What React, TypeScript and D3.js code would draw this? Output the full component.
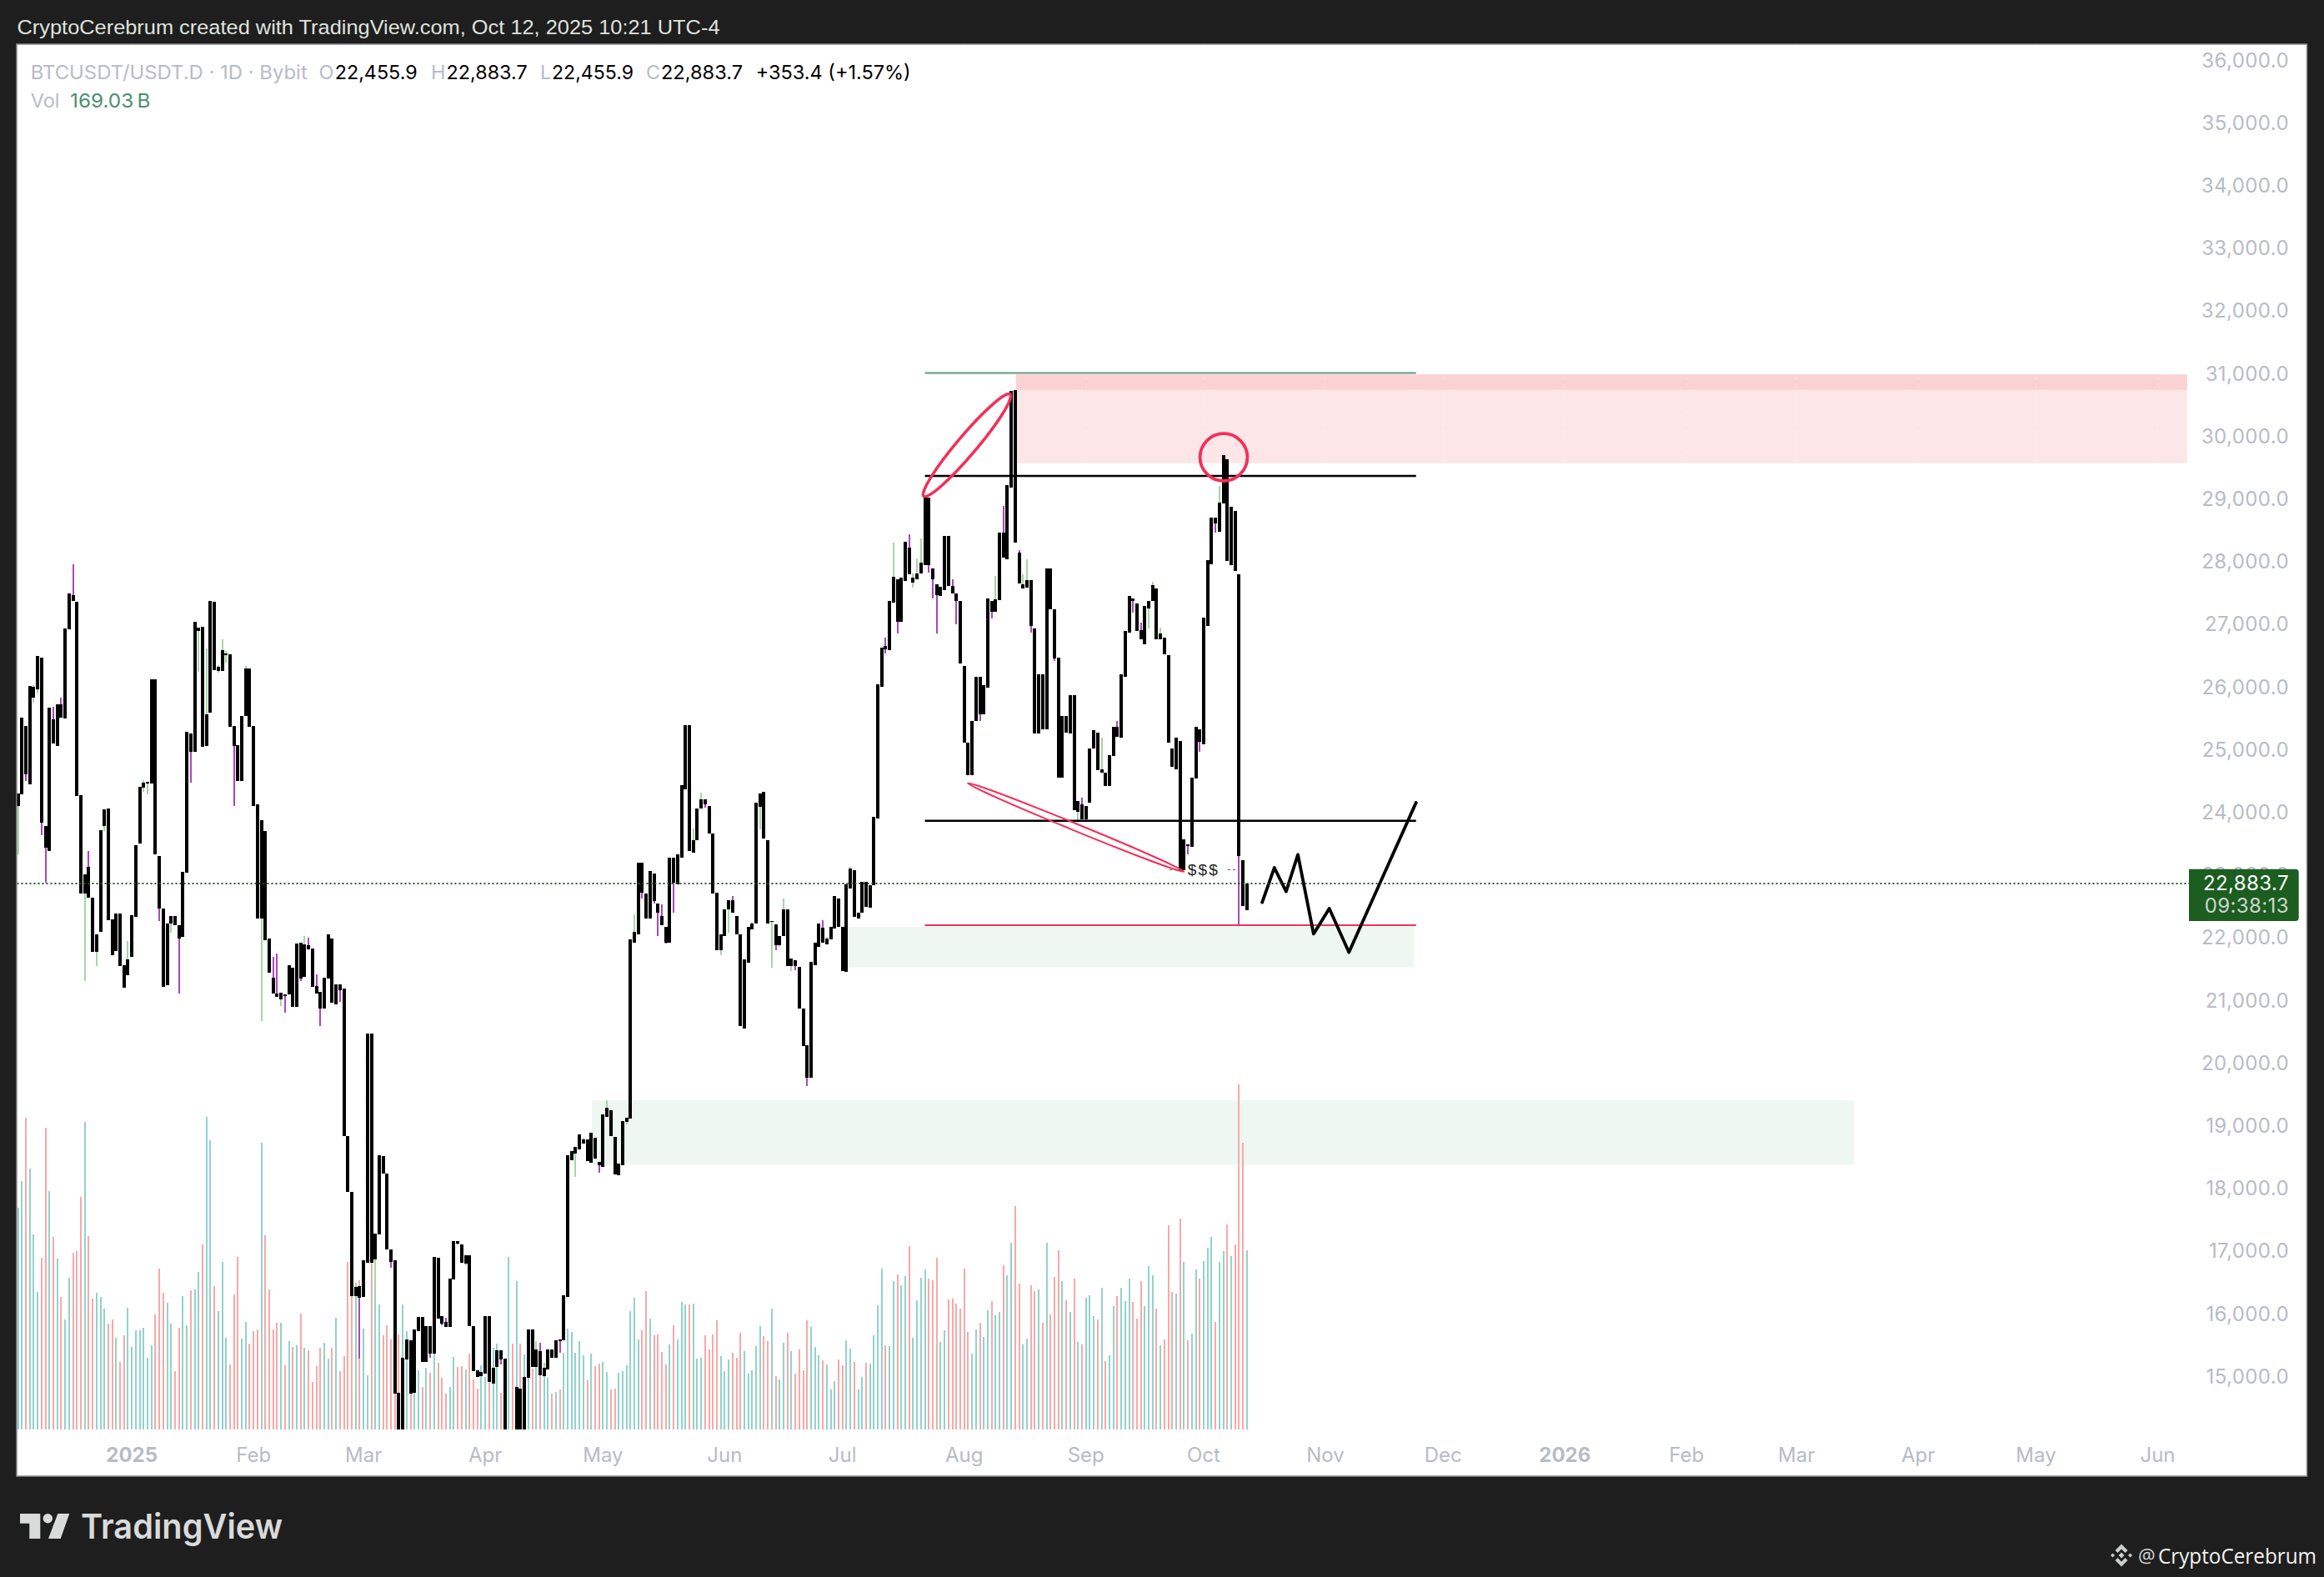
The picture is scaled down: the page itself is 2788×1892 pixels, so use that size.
import React from "react";
import * as d3 from "d3";

// ---------- data ----------
const lastBarDate = new Date(Date.UTC(2025, 9, 12));
const candleCount = 314;
const directions = [
  "uuduuuddud","uduudddudd","uuuddudduu","uuuuuddduu","dduuduuduu","duuuddduud","ddudddduou","dududddduu","dudddduduu","duuddddduu",
  "duudududdd","uuddudddUU","duuddududu","ududuududu","uuuuududdu","udduuuuuud","dudddduduu","uduuuddddu","uuddduuuuu","dduduududd",
  "dduuuduuud","duuduuduuu","uduuduuduu","uuddduuddd","ddduuduudu","uduudduudd","ududddudud","uduuududuu","duuudddUUU","dudddududu",
  "uduuuduudu","dddu",
].join("").toLowerCase().replace(/o/g, "d");
const bodyHigh = [
  24314,25525,25392,26033,26019,26513,26485,23796,25687,25506,
  25739,25739,26950,27506,27482,27373,24290,23026,23150,22651,
  22067,23729,24062,24076,22309,22400,22400,21578,21668,22385,
  23492,24423,24489,24504,26142,26142,23316,22480,22243,22361,
  22361,22214,23064,25302,25273,27054,26964,26974,25582,27387,
  27373,26342,26603,26551,26537,25392,25088,25553,26309,26309,
  25392,24143,23891,23720,22000,21383,21126,21136,21117,21578,
  21535,21920,21934,21910,21896,21844,21245,21150,21378,22067,
  22000,21269,21269,21202,18852,17962,16446,16456,16874,20491,
  20491,17298,18547,18532,18257,17052,16874,14764,15315,15610,
  15595,15767,15969,15969,15822,15822,16924,16914,15979,15886,
  16579,17184,17175,17125,16953,16953,15822,15118,15088,15979,
  15979,15157,15438,15438,15305,14100,14100,14852,14823,15010,
  15767,15767,15453,15423,15152,15448,15448,15595,15610,16309,
  18547,18621,18685,18882,18803,18803,18906,18828,18439,19202,
  19300,19261,18847,18414,19088,19143,21987,22108,23212,23212,
  22723,23081,23039,22571,22371,22198,23302,23291,23344,24459,
  25416,25405,23581,24075,24222,24227,24127,23680,22734,22066,
  22466,22624,22618,22371,22072,21672,22187,22240,24175,24317,
  24343,23581,22287,22229,22040,22466,22466,21682,21656,21551,
  20883,20310,21640,21935,22240,22177,22003,22187,22681,22650,
  22198,22871,23123,23102,22424,22908,22908,22855,23954,26068,
  26650,26676,27386,27772,27732,27760,28337,28245,27766,27835,
  28003,29041,29041,27916,27651,27616,28435,28435,27628,27512,
  27397,26359,25137,25471,26175,26175,26042,27437,27397,27414,
  28476,28481,29243,30742,30754,28158,27651,27726,27726,26947,
  26226,26226,27916,27905,27253,26492,25563,25563,25886,25886,
  24196,24150,24121,25044,25327,25292,24704,24658,24929,25390,
  25390,26215,26918,27466,27426,27351,26924,27311,27397,27645,
  27587,26878,26809,26532,25044,25206,25159,23591,23504,24571,
  25390,25350,27126,28043,28724,28718,28960,29721,29646,28897,
  28827,27812,23262,22883.7,
];
const bodyLow = [
  24124,24300,24632,24470,25843,25976,23848,23449,23397,25116,
  25083,25525,25511,26945,27396,24285,22718,22718,22651,21787,
  21787,22119,23801,22295,21744,21806,21573,21226,21426,21720,
  22357,23525,24413,24480,24480,23354,22490,21240,21255,22247,
  22224,22010,22038,23060,24979,24988,26907,25069,25083,25615,
  26294,26280,26280,26532,25387,25083,24518,24513,25563,25378,
  24124,22328,22328,21986,21464,21131,21079,21036,21088,21117,
  20914,20914,21373,21392,21839,21240,21122,20889,20889,21369,
  20983,20958,21188,18852,17962,16299,16299,16274,16289,16835,
  16835,16889,17288,18252,17052,16845,14749,14000,14000,15290,
  14749,14759,15743,15256,15256,15389,15384,15945,15856,15812,
  15812,16569,17145,16830,16815,15817,15108,15005,15020,15069,
  14931,14906,15167,15290,14000,13900,13900,14000,14000,14000,
  14995,15167,15167,15039,15029,15133,15315,15315,15585,15600,
  16294,18473,18572,18641,18734,18449,18434,18498,18390,18365,
  19162,18857,18242,18227,18395,19079,19138,21945,22077,22739,
  22329,22329,22603,22424,22224,21945,21945,22892,22876,23302,
  24380,23407,23381,23581,24075,24148,23686,22729,21814,21819,
  22050,22466,22424,22077,20610,20573,21625,22150,22240,24101,
  23607,22240,22266,21898,21898,22040,21572,21567,21572,20883,
  20294,19784,19779,21583,21877,21945,21919,21998,22171,22198,
  21493,21477,22808,22355,22329,22424,22518,22503,22860,23922,
  26025,26619,26601,27368,27063,27063,27714,27812,27685,27743,
  27824,27962,27962,27732,27484,27472,27570,27628,27512,27386,
  26388,25131,24612,24606,25471,25581,25581,26013,27224,27218,
  27409,28078,28060,29196,28320,27674,27593,27610,26993,25281,
  25281,25350,25350,27253,26474,24571,24571,25286,25281,24052,
  24023,23908,23908,24168,25033,24687,24658,24433,24433,24917,
  25223,25206,26175,26890,27397,26918,26786,26705,27270,27386,
  26786,26774,26544,25125,24744,24710,23101,23101,23487,23464,
  24560,25148,25108,26999,27974,28631,28493,28954,28031,27962,
  27876,23320,22524,22455.9,
];
// wick tips that stick out of a body, keyed by bar number (1 = first bar)
const upperWickTips: Record<number, number> = {
  5:26048,10:25705,12:25848,15:27976,19:23402,29:21962,33:24532,49:26636,52:26366,53:26779,54:26594,59:26356,66:21715,67:21763,74:22048,75:22019,77:21435,87:16520,110:15954,133:15585,134:15561,135:15241,145:18833,151:19423,158:22397,165:22550,173:23765,175:24332,183:22687,188:22266,196:22650,206:22292,207:22029,213:23149,222:26809,224:28320,228:28452,229:27830,230:28072,231:28389,239:27732,250:27789,252:28908,256:28204,257:27818,258:28055,272:24254,277:25206,281:25477,287:27051,290:27697,292:26965,307:29225,
};
const lowerWickTips: Record<number, number> = {
  1:23354,3:24518,5:25772,6:25919,7:23649,8:22903,18:21331,21:21573,23:23725,33:24352,34:24300,37:22290,40:22105,42:21122,45:24499,47:26266,52:26252,54:26413,56:24124,63:20687,68:20933,69:20825,73:21331,78:20609,83:20997,88:15305,92:16446,96:16756,106:15315,109:15831,113:17125,115:16791,124:15216,139:15398,143:18208,149:18267,156:19039,160:22645,163:22566,164:22045,166:21924,168:22424,176:24096,180:21740,182:22098,190:23749,193:21546,194:21819,195:21872,198:21493,199:21498,202:19653,222:26555,225:26867,229:27610,233:27847,234:27437,235:26867,240:27022,246:25471,249:27109,259:26890,265:26428,271:23850,273:23862,285:27207,289:26953,299:23349,302:24986,306:28481,312:22218,
};
const volumes = [
  209.1,234.1,294,246,183.8,129.7,162,284.4,224.8,181.5,
  161.1,125,103.8,143.1,166.6,168.1,219.3,289.9,182.3,123.3,
  128.8,125,114,99.7,103.8,86.4,63.7,88.7,114.6,77.6,
  93.3,93.3,96,67.5,79.4,108.5,151.5,128.8,119.5,99.7,
  55,96,125.6,98.3,131.2,132,148.6,174.5,294.9,272.8,
  135.2,111.7,157.9,86.4,61.4,127.4,162.6,85.5,101.2,80.8,
  92.8,94.2,270.4,183.2,132,94.2,100.6,100.6,60.5,83.2,
  77.6,79.4,109.3,77.1,74.7,44.8,59.6,77.1,81.7,66.9,
  77.1,105.3,55,69.2,157.9,125.6,138.7,140.7,95.1,50.9,
  157.6,138.4,117.8,88.7,98.3,84.9,61.6,89.3,117.8,93.1,
  34,34.9,55.8,40.1,58.2,53.5,71.5,62.8,48.6,33.7,
  40.1,68.3,58.7,59.6,56.7,71.5,47.1,38.4,60.5,49.4,
  44.8,77.1,80.8,34.6,34.6,162.6,80.8,139.9,80.8,70.7,
  48.6,57.3,62.8,50.9,54.4,48.6,33.7,35.2,37.5,72.4,
  95.1,91.9,72.4,83.2,70.1,46.2,71.5,59.6,61.9,63.7,
  54.4,37.5,38.4,53.4,55,60.5,111.6,124.2,84.9,93.5,
  130.5,104.5,88.8,89.6,73.1,61.3,80.2,98.3,84.9,120.3,
  117.9,117.9,118.7,66.8,67.6,88.8,75.5,89.6,103,69.2,
  55,66,72.3,67.6,91.2,73.9,52.7,55.8,78.6,97.5,
  88,83.3,114,50.3,47.2,81.7,91.2,73.9,52.7,75.5,
  55.8,103,96.7,77.8,70,65.2,61.3,37.7,45.3,66,
  60.5,84.1,76.2,63.7,37.7,49.5,62.9,62.1,88.8,117.1,
  151.7,79.4,78.6,139.9,146.2,136,144.6,172.9,86.5,121.8,
  143.1,150.9,142.3,140.7,161.9,82.5,93.5,122.6,123.4,118.7,
  114,151.7,92,71.5,94.3,100.6,87.2,112.4,121,107.7,
  110.8,154.8,145.4,176.1,210.6,137.6,80.2,85.7,136,130.5,
  132,100.6,176.1,108.5,143.8,169,139.9,121.8,110.8,142.3,
  82.5,80.2,124.2,126.5,106.9,103.8,133.6,64.5,70,116.3,
  125.8,133.6,121,142.3,120.3,104.5,139.9,116.3,154.1,145.4,
  114,79.4,84.9,192.6,129.7,128.1,198.9,158,84.1,90.4,
  150.9,142.3,158.8,171.3,181.6,101.4,158,168.2,193.4,163.5,
  174.5,325.4,270.4,169.03,
];
const lastClose = 22883.7;
const priceTicks = d3.range(15000, 36001, 1000);
const lineLevels = [
  { price: 31030, color: "#5f9a78", width: 2 },
  { price: 29387, color: "#000000", width: 2.4 },
  { price: 23885, color: "#000000", width: 2.4 },
  { price: 22218, color: "#f23058", width: 2 },
];
const levelSpanDays = [202, 327.1];
const zones = [
  { from: 225.2, to: 523.5, top: 31005, bottom: 29590, color: "#fde6e8" },
  { from: 225.2, to: 523.5, top: 31005, bottom: 30760, color: "#fad2d4" },
  { from: 181.5, to: 326.6, top: 22192, bottom: 21546, color: "#eef7f1" },
  { from: 117.2, to: 438.6, top: 19426, bottom: 18394, color: "#eef7f1" },
];
const forecastDays = [287.9, 291, 294, 297, 301, 305, 310, 327.1];
const forecastPrices = [22583, 23136, 22756, 23344, 22080, 22485, 21787, 24175];
const ovals = [
  { d1: 201.7, p1: 29062, d2: 223.7, p2: 30690, minor: 11.6, stroke: 3.6 },
  { d1: 212.9, p1: 24486, d2: 268, p2: 23072, minor: 4.2, stroke: 2 },
];
const circleMark = { day: 278.1, price: 29684, r: 28.4 };
const noteMark = { day: 273, price: 23102, text: "$$$" };

// ---------- geometry ----------
const W = 2788, H = 1892;
const PANE = { left: 20.5, right: 2767, top: 53.5, bottom: 1770.5, chartBottom: 1715, axisX: 2626 };
const FONT = "Inter, 'Liberation Sans', sans-serif";
const GREY = "#b8bbc5";

const t0 = Date.UTC(2025, 0, 1);
const dayMs = 86400000;
const x = d3.scaleUtc().domain([new Date(t0), lastBarDate]).range([158.2, 1495.8]);
const xDay = (d: number) => x(new Date(t0 + d * dayMs));
const y = d3.scaleLinear().domain([lastClose, 36000]).range([1060, 1060 - (36000 - lastClose) * 0.0752]);
const volumeY = d3.scaleLinear().domain([0, 169.03]).range([PANE.chartBottom, 1500]);
const priceFormat = d3.format(",.1f");

const barDates = d3.range(candleCount).map((i) => d3.utcDay.offset(lastBarDate, i - candleCount + 1));
const monthTicks = d3.utcMonth.range(new Date(Date.UTC(2025, 0, 1)), new Date(Date.UTC(2026, 5, 2)));
const monthFormat = d3.utcFormat("%b");
const yearFormat = d3.utcFormat("%Y");

const forecastLine = d3
  .line<number>()
  .x((d) => xDay(d))
  .y((_, i) => y(forecastPrices[i]));

function Oval({ o }: { o: (typeof ovals)[number] }) {
  const ax = xDay(o.d1), ay = y(o.p1), bx = xDay(o.d2), by = y(o.p2);
  const rx = Math.hypot(bx - ax, by - ay) / 2;
  const angle = (Math.atan2(by - ay, bx - ax) * 180) / Math.PI;
  return (
    <ellipse
      cx={(ax + bx) / 2}
      cy={(ay + by) / 2}
      rx={rx}
      ry={o.minor}
      transform={`rotate(${angle} ${(ax + bx) / 2} ${(ay + by) / 2})`}
      fill="none"
      stroke="#f23058"
      strokeWidth={o.stroke}
    />
  );
}

export default function App() {
  const legendY = 86;
  const noteX = xDay(noteMark.day);
  const noteY = y(noteMark.price);
  return (
    <svg
      width={W}
      height={H}
      viewBox={`0 0 ${W} ${H}`}
      style={{ position: "fixed", left: 0, top: 0, display: "block", background: "#1e1e1e" }}
      fontFamily={FONT}
    >
      <defs>
        <clipPath id="pane">
          <rect x={PANE.left} y={PANE.top} width={PANE.axisX - PANE.left} height={PANE.chartBottom - PANE.top} />
        </clipPath>
      </defs>
      <rect x={0} y={0} width={W} height={H} fill="#1e1e1e" />
      <rect
        x={PANE.left - 0.5}
        y={PANE.top - 0.5}
        width={PANE.right - PANE.left + 1}
        height={PANE.bottom - PANE.top + 1}
        fill="#ffffff"
        stroke="#8c8c8c"
        strokeWidth={1.5}
      />

      {/* header */}
      <text x={20.5} y={32} dominantBaseline="central" fontSize={24.5} fill="#dfe3de" textLength={843} lengthAdjust="spacingAndGlyphs" fontFamily="'Liberation Sans', sans-serif">
        CryptoCerebrum created with TradingView.com, Oct 12, 2025 10:21 UTC-4
      </text>

      <g clipPath="url(#pane)">
        {zones.map((z, i) => (
          <rect key={i} x={xDay(z.from)} width={xDay(z.to) - xDay(z.from)} y={y(z.top)} height={y(z.bottom) - y(z.top)} fill={z.color} />
        ))}

        {/* faint month grid, only noticeable over the shaded zones */}
        {monthTicks.map((m) => (
          <line key={+m} x1={x(m)} x2={x(m)} y1={PANE.top} y2={PANE.chartBottom} stroke="#fbfbfb" strokeWidth={1} strokeDasharray="1 7" />
        ))}

        {/* volume */}
        <g shapeRendering="crispEdges">
          {volumes.map((v, i) => (
            <rect
              key={i}
              x={Math.round(x(barDates[i]) - 1)}
              width={2}
              y={volumeY(v)}
              height={volumeY(0) - volumeY(v)}
              fill={directions[i] === "u" ? "#92d2cc" : "#f7a9a7"}
            />
          ))}
        </g>

        {/* candles: green / purple wicks, black bodies */}
        <g shapeRendering="crispEdges">
          {barDates.map((date, i) => {
            const n = i + 1;
            const hi = upperWickTips[n] ?? bodyHigh[i];
            const lo = lowerWickTips[n] ?? bodyLow[i];
            const cx = x(date);
            return (
              <g key={i}>
                <rect x={Math.round(cx - 1)} width={2} y={y(hi)} height={y(lo) - y(hi)} fill={directions[i] === "u" ? "#a5d6a7" : "#ab47bc"} />
                <rect x={Math.round(cx - 2)} width={4} y={y(bodyHigh[i])} height={Math.max(1.5, y(bodyLow[i]) - y(bodyHigh[i]))} fill="#000000" />
              </g>
            );
          })}
        </g>

        {/* drawings */}
        {lineLevels.map((l, i) => (
          <line key={i} x1={xDay(levelSpanDays[0])} x2={xDay(levelSpanDays[1])} y1={y(l.price)} y2={y(l.price)} stroke={l.color} strokeWidth={l.width} />
        ))}
        {ovals.map((o, i) => (
          <Oval key={i} o={o} />
        ))}
        <ellipse cx={xDay(circleMark.day)} cy={y(circleMark.price)} rx={circleMark.r} ry={circleMark.r} fill="none" stroke="#f23058" strokeWidth={3.8} />
        <path d={forecastLine(forecastDays) ?? ""} fill="none" stroke="#000000" strokeWidth={3.8} strokeLinejoin="round" strokeLinecap="round" />
        <line x1={noteX - 41} x2={noteX - 30} y1={noteY} y2={noteY} stroke="#555" strokeWidth={1} strokeDasharray="3 3" />
        <line x1={noteX + 29} x2={noteX + 38} y1={noteY} y2={noteY} stroke="#555" strokeWidth={1} strokeDasharray="3 3" />
        <text x={noteX} y={noteY} textAnchor="middle" dominantBaseline="central" fontSize={19} letterSpacing={2.2} fill="#222222" fontFamily="'Liberation Sans', sans-serif">
          {noteMark.text}
        </text>

        {/* last-price line */}
        <line x1={PANE.left} x2={PANE.axisX} y1={y(lastClose)} y2={y(lastClose)} stroke="#1b5e20" strokeWidth={2} strokeDasharray="2 3" />
      </g>

      {/* legend */}
      <g fontSize={23.5} dominantBaseline="central">
        <text x={36.7} y={legendY} fill={GREY} textLength={332} lengthAdjust="spacingAndGlyphs">BTCUSDT/USDT.D · 1D · Bybit</text>
        <text x={382.6} y={legendY} fill={GREY}>O</text>
        <text x={401.7} y={legendY} fill="#000" textLength={99} lengthAdjust="spacingAndGlyphs">22,455.9</text>
        <text x={517} y={legendY} fill={GREY}>H</text>
        <text x={535.6} y={legendY} fill="#000" textLength={97} lengthAdjust="spacingAndGlyphs">22,883.7</text>
        <text x={648} y={legendY} fill={GREY}>L</text>
        <text x={662} y={legendY} fill="#000" textLength={98} lengthAdjust="spacingAndGlyphs">22,455.9</text>
        <text x={775} y={legendY} fill={GREY}>C</text>
        <text x={793} y={legendY} fill="#000" textLength={98} lengthAdjust="spacingAndGlyphs">22,883.7</text>
        <text x={906.7} y={legendY} fill="#000" textLength={186} lengthAdjust="spacingAndGlyphs">+353.4 (+1.57%)</text>
        <text x={36.7} y={120} fill={GREY}>Vol</text>
        <text x={84} y={120} fill="#4c8f6e" textLength={96.5} lengthAdjust="spacingAndGlyphs">{"169.03\u2009B"}</text>
      </g>

      {/* price axis */}
      <g fontSize={24} fill={GREY} textAnchor="end" letterSpacing={0.4}>
        {priceTicks.map((p) => (
          <text key={p} x={2746} y={y(p) - 1.5} dominantBaseline="central">
            {priceFormat(p)}
          </text>
        ))}
      </g>
      <path d="M2626 1042.7 H2753.7 a4 4 0 0 1 4 4 V1101 a4 4 0 0 1 -4 4 H2626 Z" fill="#1b5e20" />
      <text x={2746} y={1059.5} textAnchor="end" dominantBaseline="central" fontSize={24} letterSpacing={0.4} fill="#ffffff">{priceFormat(lastClose)}</text>
      <text x={2746} y={1086.5} textAnchor="end" dominantBaseline="central" fontSize={24} letterSpacing={0.4} fill="#cdd6cf">09:38:13</text>

      {/* time axis */}
      <g fontSize={24} fill={GREY} textAnchor="middle">
        {monthTicks.map((m) => {
          const isYear = m.getUTCMonth() === 0;
          return (
            <text key={+m} x={x(m)} y={1745.5} dominantBaseline="central" fontWeight={isYear ? 700 : 400}>
              {isYear ? yearFormat(m) : monthFormat(m)}
            </text>
          );
        })}
      </g>

      {/* footer */}
      <g fill="#d9dada">
        <path d="M24 1816 H48.3 V1846 H35.3 V1827.7 H24 Z" />
        <circle cx={57.3} cy={1821.7} r={5.7} />
        <path d="M83.3 1816 H69.3 L58 1846 H72.7 Z" />
      </g>
      <text x={97} y={1845.7} fontSize={41} fontWeight={600} fill="#d9dada" textLength={242} lengthAdjust="spacingAndGlyphs">TradingView</text>
      <g fill="#c9cfca">
        <path d="M2545 1852.5 l7.5 7.5 -3 3 -4.5 -4.5 -4.5 4.5 -3 -3 z" />
        <path d="M2545 1879.5 l7.5 -7.5 -3 -3 -4.5 4.5 -4.5 -4.5 -3 3 z" />
        <path d="M2545 1862.5 l3.5 3.5 -3.5 3.5 -3.5 -3.5 z" />
        <path d="M2534.5 1863.5 l2.5 2.5 -2.5 2.5 -2.5 -2.5 z" />
        <path d="M2555.5 1863.5 l2.5 2.5 -2.5 2.5 -2.5 -2.5 z" />
      </g>
      <text x={2565} y={1866} fontSize={23} dominantBaseline="central" fill="#cfd4d0" fontFamily="'Open Sans', sans-serif">@</text>
      <text x={2589} y={1866} fontSize={25} dominantBaseline="central" fill="#f2f4f2" textLength={190} lengthAdjust="spacingAndGlyphs" fontFamily="'Open Sans', sans-serif">CryptoCerebrum</text>
    </svg>
  );
}
